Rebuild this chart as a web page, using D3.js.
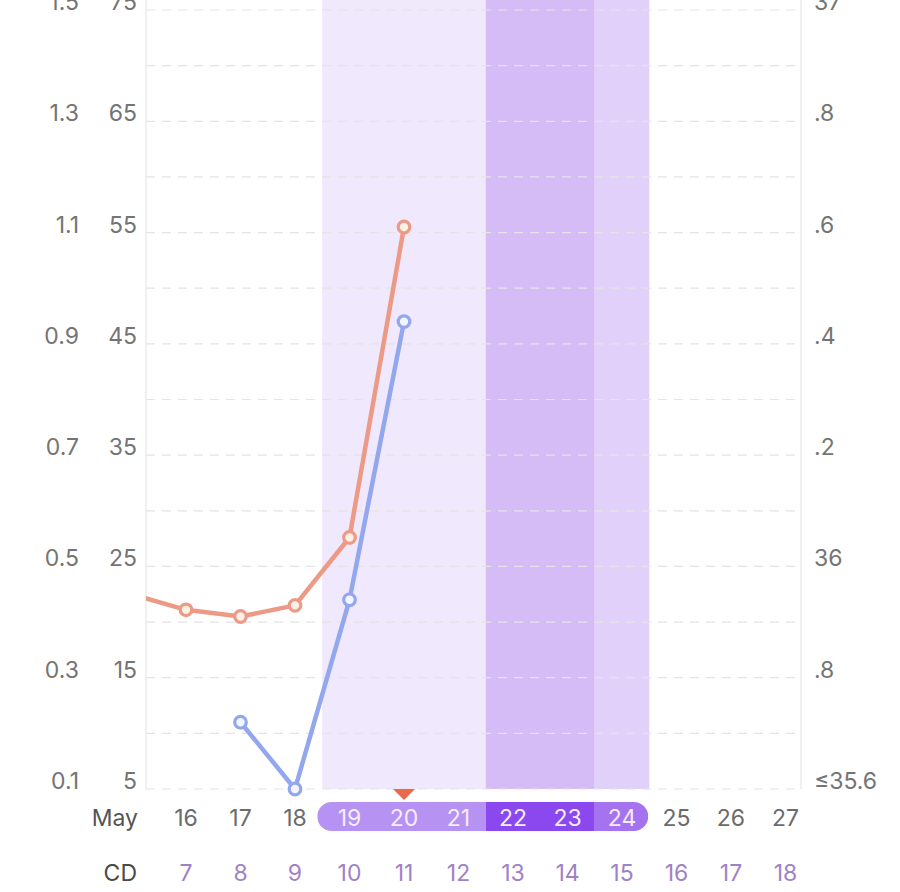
<!DOCTYPE html>
<html>
<head>
<meta charset="utf-8">
<script src="https://cdn.jsdelivr.net/npm/d3@7"></script>
<style>
  html, body { margin: 0; padding: 0; background: #fff; }
  svg { display: block; font-family: Inter, "Noto Sans", sans-serif; }
  .tick-label { font-size: 23px; fill: #747474; }
</style>
</head>
<body>
<div id="chart"></div>
<script>
// visible days (May) and cycle day numbers
var days = [16, 17, 18, 19, 20, 21, 22, 23, 24, 25, 26, 27];
var cycleDays = [7, 8, 9, 10, 11, 12, 13, 14, 15, 16, 17, 18];

// orange series, read on the 5..75 axis
var orangeDays = [15, 16, 17, 18, 19, 20];
var orangeValues = [22.5, 21.1, 20.5, 21.5, 27.6, 55.5];

// blue series, read on the 0.1..1.5 axis
var blueDays = [17, 18, 19, 20];
var blueValues = [0.22, 0.10, 0.44, 0.94];

// axis ticks
var outerTicks = [0.1, 0.3, 0.5, 0.7, 0.9, 1.1, 1.3, 1.5];
var innerTicks = [5, 15, 25, 35, 45, 55, 65, 75];
var tempTicks = [35.6, 35.8, 36.0, 36.2, 36.4, 36.6, 36.8, 37.0];
var tempLabels = ["≤35.6", ".8", "36", ".2", ".4", ".6", ".8", "37"];
var gridValues = d3.range(5, 76, 5);

// phase bands: [first day, last day, band colour, pill colour]
var phases = [
  { from: 19, to: 21, band: "#f0e8fd", pill: "#b692f2" },
  { from: 22, to: 23, band: "#d5bcf7", pill: "#8a48ee" },
  { from: 24, to: 24, band: "#e1d0fa", pill: "#a673f0" }
];
var markerDay = 20;

var W = 900, H = 892;
var plot = { left: 146, right: 801, top: 0, bottom: 789 };

var svg = d3.select("#chart").append("svg")
  .attr("width", W).attr("height", H)
  .attr("viewBox", "0 0 " + W + " " + H);

var step = 54.5;
var x = d3.scaleLinear()
  .domain([16, 27])
  .range([186, 186 + 11 * step]);

var y = d3.scaleLinear().domain([5, 75]).range([789, 10]);
var yOuter = d3.scaleLinear().domain([0.1, 1.5]).range([789, 10]);
var yTemp = d3.scaleLinear().domain([35.6, 37.0]).range([789, 10]);

svg.append("defs").append("clipPath").attr("id", "plot-clip")
  .append("rect")
  .attr("x", plot.left).attr("y", plot.top)
  .attr("width", plot.right - plot.left).attr("height", H);

// phase bands
svg.append("g").selectAll("rect").data(phases).enter().append("rect")
  .attr("x", function(d){ return x(d.from) - step / 2; })
  .attr("y", plot.top)
  .attr("width", function(d){ return (d.to - d.from + 1) * step; })
  .attr("height", plot.bottom - plot.top)
  .attr("fill", function(d){ return d.band; });

// dashed grid
svg.append("g").selectAll("line").data(gridValues).enter().append("line")
  .attr("x1", plot.left).attr("x2", plot.right)
  .attr("y1", function(d){ return y(d); })
  .attr("y2", function(d){ return y(d); })
  .attr("stroke", "#e4e4e4")
  .attr("stroke-width", 1.2)
  .attr("stroke-dasharray", "9,7");

// frame lines
[plot.left, plot.right].forEach(function(px){
  svg.append("line")
    .attr("x1", px).attr("x2", px)
    .attr("y1", 0).attr("y2", plot.bottom)
    .attr("stroke", "#ebebeb").attr("stroke-width", 1.5);
});

// axis labels
var labels = svg.append("g");
labels.selectAll("text.outer").data(outerTicks).enter().append("text")
  .attr("class", "tick-label")
  .attr("x", 79).attr("y", function(d){ return yOuter(d); })
  .attr("text-anchor", "end")
  .text(function(d){ return d.toFixed(1); });

labels.selectAll("text.inner").data(innerTicks).enter().append("text")
  .attr("class", "tick-label")
  .attr("x", 137).attr("y", function(d){ return y(d); })
  .attr("text-anchor", "end")
  .text(function(d){ return d; });

labels.selectAll("text.temp").data(tempTicks).enter().append("text")
  .attr("class", "tick-label")
  .attr("x", 814).attr("y", function(d){ return yTemp(d); })
  .text(function(d, i){ return tempLabels[i]; });

// series
var chartG = svg.append("g").attr("clip-path", "url(#plot-clip)");

function drawSeries(xs, vs, scale, color, fill){
  var pts = xs.map(function(d, i){ return [x(d), scale(vs[i])]; });
  chartG.append("path")
    .attr("d", d3.line()(pts))
    .attr("fill", "none")
    .attr("stroke", color)
    .attr("stroke-width", 4.5)
    .attr("stroke-linejoin", "round");
  chartG.selectAll(null).data(pts).enter().append("circle")
    .attr("cx", function(d){ return d[0]; })
    .attr("cy", function(d){ return d[1]; })
    .attr("r", 5.8)
    .attr("fill", fill)
    .attr("stroke", color)
    .attr("stroke-width", 3.2);
}
drawSeries(orangeDays, orangeValues, y, "#ec9a86", "#fdf1e6");
drawSeries(blueDays, blueValues, yOuter, "#93a7ee", "#f3f5ff");

// date pill
var pillTop = 802, pillH = 29;
var p0 = x(phases[0].from) - step / 2 - 5;
var p1 = x(phases[phases.length - 1].to) + step / 2 - 1;
svg.append("clipPath").attr("id", "pill-clip")
  .append("rect")
  .attr("x", p0).attr("y", pillTop)
  .attr("width", p1 - p0).attr("height", pillH)
  .attr("rx", pillH / 2);

svg.append("g").attr("clip-path", "url(#pill-clip)")
  .selectAll("rect").data(phases).enter().append("rect")
  .attr("x", function(d, i){ return i === 0 ? p0 : x(d.from) - step / 2; })
  .attr("y", pillTop)
  .attr("width", function(d, i){
    var a = i === 0 ? p0 : x(d.from) - step / 2;
    var b = i === phases.length - 1 ? p1 : x(d.to) + step / 2;
    return b - a;
  })
  .attr("height", pillH)
  .attr("fill", function(d){ return d.pill; });

// today marker
var mx = x(markerDay);
svg.append("path")
  .attr("d", "M" + (mx - 11) + "," + 789 + "L" + (mx + 11) + "," + 789 + "L" + mx + "," + 800 + "Z")
  .attr("fill", "#e9694b");

function inPhase(d){
  return phases.some(function(p){ return d >= p.from && d <= p.to; });
}

// date row
svg.append("text").attr("x", 138).attr("y", 826)
  .attr("text-anchor", "end")
  .style("font-size", "23px").attr("fill", "#555")
  .text("May");

svg.append("g").selectAll("text").data(days).enter().append("text")
  .attr("x", function(d){ return x(d); })
  .attr("y", 826)
  .attr("text-anchor", "middle")
  .style("font-size", "23px")
  .attr("fill", function(d){ return inPhase(d) ? "#f6ecfc" : "#6b6b6b"; })
  .text(function(d){ return d; });

// cycle day row
svg.append("text").attr("x", 137).attr("y", 881)
  .attr("text-anchor", "end")
  .style("font-size", "23px").attr("fill", "#4a4a4a")
  .text("CD");

svg.append("g").selectAll("text").data(cycleDays).enter().append("text")
  .attr("x", function(d, i){ return x(days[i]); })
  .attr("y", 881)
  .attr("text-anchor", "middle")
  .style("font-size", "23px")
  .attr("fill", "#9f82c6")
  .text(function(d){ return d; });
</script>
</body>
</html>
